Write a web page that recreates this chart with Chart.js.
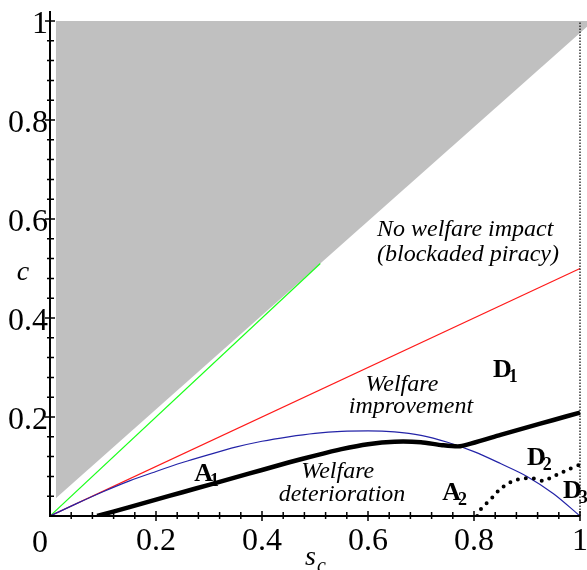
<!DOCTYPE html>
<html>
<head>
<meta charset="utf-8">
<script src="https://cdn.jsdelivr.net/npm/chart.js@4.4.0/dist/chart.umd.min.js"></script>
<style>
    html, body { margin: 0; padding: 0; background: #fff; }
    canvas { display: block; }
    .preload { font-family: "Liberation Serif"; position: absolute; left: -999px; top: 0; }
</style>
</head>
<body>
<span class="preload">0.2 <i>No welfare</i> <b>A1</b></span>
<canvas id="welfareChart" width="587" height="570"></canvas>
<script>
// tick values
const majorTicks = [0.2, 0.4, 0.6, 0.8, 1];
const minorTicks = [0.04, 0.08, 0.12, 0.16, 0.24, 0.28, 0.32, 0.36, 0.44, 0.48,
                    0.52, 0.56, 0.64, 0.68, 0.72, 0.76, 0.84, 0.88, 0.92, 0.96];

// shaded region boundary (filled up to c = 1)
const shadeS = [0.011, 1.02];
const shadeC = [0.036, 0.995];

// c = s_c line
const greenS = [0, 0.51];
const greenC = [0, 0.51];

// c = s_c / 2 line
const redS = [0, 1];
const redC = [0, 0.5];

// blue curve
const blueS = [0, 0.05, 0.1, 0.15, 0.2, 0.25, 0.3, 0.35, 0.4, 0.45, 0.5,
               0.55, 0.6, 0.65, 0.7, 0.75, 0.8, 0.85, 0.9, 0.95, 1];
const blueC = [0, 0.025, 0.049, 0.071, 0.09, 0.108, 0.124, 0.139, 0.151, 0.16, 0.167,
               0.171, 0.172, 0.17, 0.163, 0.149, 0.13, 0.106, 0.08, 0.045, 0];

// thick black boundary
const blackS = [0.089, 0.15, 0.2, 0.25, 0.3, 0.35, 0.4, 0.45, 0.5, 0.55, 0.6,
                0.65, 0.7, 0.74, 0.774, 0.85, 0.9, 0.95, 1];
const blackC = [0, 0.018, 0.033, 0.048, 0.063, 0.078, 0.093, 0.108, 0.122, 0.135, 0.145,
                0.15, 0.149, 0.143, 0.141, 0.164, 0.179, 0.194, 0.209];

// dotted boundary
const dotS = [0.806, 0.811, 0.824, 0.837, 0.849, 0.865, 0.88, 0.896, 0.912, 0.931,
              0.946, 0.962, 0.978, 1];
const dotC = [0, 0.011, 0.026, 0.04, 0.054, 0.066, 0.073, 0.076, 0.076, 0.071,
              0.078, 0.086, 0.094, 0.104];

// s_c = 1 limit
const limitS = [1, 1];
const limitC = [0, 1];

// region labels, placed in data coordinates
const textLabels = [
    { text: 'No welfare impact', s: 0.617, c: 0.566, align: 'left' },
    { text: '(blockaded piracy)', s: 0.617, c: 0.515, align: 'left' },
    { text: 'Welfare', s: 0.664, c: 0.253, align: 'center' },
    { text: 'improvement', s: 0.681, c: 0.208, align: 'center' },
    { text: 'Welfare', s: 0.543, c: 0.077, align: 'center' },
    { text: 'deterioration', s: 0.551, c: 0.03, align: 'center' }
];
const zoneLabels = [
    { main: 'A', sub: '1', s: 0.272, c: 0.071 },
    { main: 'A', sub: '2', s: 0.74, c: 0.032 },
    { main: 'D', sub: '1', s: 0.836, c: 0.281 },
    { main: 'D', sub: '2', s: 0.9, c: 0.103 },
    { main: 'D', sub: '3', s: 0.968, c: 0.036 }
];

const pts = (xs, ys) => xs.map((x, i) => ({ x: x, y: ys[i] }));
const FONT = '"Liberation Serif", "Times New Roman", Times, serif';

const axesAndText = {
    id: 'axesAndText',
    afterDraw(chart) {
        const ctx = chart.ctx;
        const xs = chart.scales.x;
        const ys = chart.scales.y;
        const x0 = xs.getPixelForValue(0);
        const y0 = ys.getPixelForValue(0);

        ctx.save();
        ctx.strokeStyle = '#000';
        ctx.lineWidth = 2;
        ctx.beginPath();
        ctx.moveTo(x0, y0);
        ctx.lineTo(xs.getPixelForValue(1), y0);
        ctx.moveTo(x0, y0 + 1);
        ctx.lineTo(x0, ys.getPixelForValue(1) - 10);
        ctx.stroke();

        ctx.lineWidth = 1.5;
        ctx.beginPath();
        majorTicks.forEach(v => {
            const px = xs.getPixelForValue(v);
            ctx.moveTo(px, y0 - 5);
            ctx.lineTo(px, y0 + 5);
            const py = ys.getPixelForValue(v);
            ctx.moveTo(x0 - 5, py);
            ctx.lineTo(x0 + 5, py);
        });
        minorTicks.forEach(v => {
            const px = xs.getPixelForValue(v);
            ctx.moveTo(px, y0 - 4);
            ctx.lineTo(px, y0 + 3);
            const py = ys.getPixelForValue(v);
            ctx.moveTo(x0 - 3, py);
            ctx.lineTo(x0 + 4, py);
        });
        ctx.stroke();

        ctx.fillStyle = '#000';
        ctx.textBaseline = 'alphabetic';

        // origin label
        ctx.font = '32px ' + FONT;
        ctx.textAlign = 'center';
        ctx.fillText('0', x0 - 10, y0 + 36);

        // axis titles
        ctx.font = 'italic 28px ' + FONT;
        ctx.textAlign = 'center';
        ctx.fillText('c', x0 - 27, ys.getPixelForValue(0.5) + 11);
        const sx = xs.getPixelForValue(0.5);
        ctx.textAlign = 'left';
        ctx.fillText('s', sx - 10, y0 + 49);
        ctx.font = 'italic 20px ' + FONT;
        ctx.fillText('c', sx + 2, y0 + 56);

        ctx.font = 'italic 24px ' + FONT;
        textLabels.forEach(l => {
            ctx.textAlign = l.align;
            ctx.fillText(l.text, xs.getPixelForValue(l.s), ys.getPixelForValue(l.c));
        });

        ctx.textAlign = 'left';
        zoneLabels.forEach(l => {
            const px = xs.getPixelForValue(l.s);
            const py = ys.getPixelForValue(l.c);
            ctx.font = 'bold 26px ' + FONT;
            ctx.fillText(l.main, px, py);
            const w = ctx.measureText(l.main).width;
            ctx.font = 'bold 18px ' + FONT;
            ctx.fillText(l.sub, px + w - 3, py + 5);
        });
        ctx.restore();
    }
};

const lineSet = (data, color, width, extra) => Object.assign({
    data: data,
    showLine: true,
    borderColor: color,
    borderWidth: width,
    pointRadius: 0,
    fill: false,
    tension: 0
}, extra || {});

function drawChart() {
    new Chart(document.getElementById('welfareChart'), {
        type: 'scatter',
        data: {
            datasets: [
                lineSet(pts(limitS, limitC), '#000', 1.2, { borderDash: [1.5, 1.5] }),
                lineSet(pts(dotS, dotC), '#000', 4, { borderDash: [0, 8], borderCapStyle: 'round', tension: 0.3 }),
                lineSet(pts(blackS, blackC), '#000', 4.5, { borderJoinStyle: 'round', tension: 0.2 }),
                lineSet(pts(blueS, blueC), '#2424a8', 1.2, { cubicInterpolationMode: 'monotone' }),
                lineSet(pts(redS, redC), '#ff1a1a', 1.2),
                lineSet(pts(greenS, greenC), '#1aff1a', 1.2),
                lineSet(pts(shadeS, shadeC), 'rgba(0,0,0,0)', 0, { fill: 'end', backgroundColor: '#c0c0c0' })
            ]
        },
        options: {
            responsive: false,
            animation: false,
            events: [],
            layout: { padding: { top: 21, right: 0, bottom: 0, left: 0 } },
            plugins: { legend: { display: false }, tooltip: { enabled: false } },
            scales: {
                x: {
                    type: 'linear',
                    min: 0,
                    max: 1.0132,
                    grid: { display: false, drawTicks: false },
                    border: { display: false },
                    afterBuildTicks: scale => { scale.ticks = majorTicks.map(v => ({ value: v })); },
                    afterFit: scale => { scale.height = 54; scale.paddingLeft = 0; scale.paddingRight = 0; },
                    ticks: {
                        autoSkip: false,
                        maxRotation: 0,
                        padding: 6,
                        color: '#000',
                        font: { family: FONT, size: 32 },
                        callback: v => String(v)
                    }
                },
                y: {
                    type: 'linear',
                    min: 0,
                    max: 1,
                    grid: { display: false, drawTicks: false },
                    border: { display: false },
                    afterBuildTicks: scale => { scale.ticks = majorTicks.map(v => ({ value: v })); },
                    afterFit: scale => { scale.width = 50; scale.paddingTop = 0; scale.paddingBottom = 0; },
                    ticks: {
                        autoSkip: false,
                        padding: 2,
                        labelOffset: 4,
                        color: '#000',
                        font: { family: FONT, size: 32 },
                        callback: v => String(v)
                    }
                }
            }
        },
        plugins: [axesAndText]
    });
}

Promise.all([
    document.fonts.load('32px "Liberation Serif"'),
    document.fonts.load('italic 24px "Liberation Serif"'),
    document.fonts.load('bold 24px "Liberation Serif"')
]).then(drawChart, drawChart);
</script>
</body>
</html>
